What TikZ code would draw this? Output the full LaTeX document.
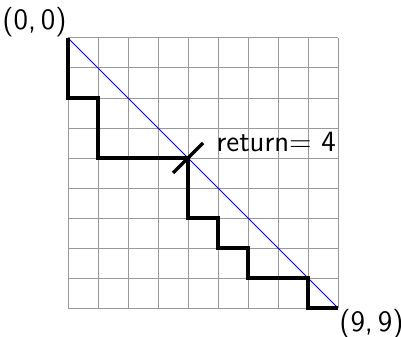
\documentclass[tikz,border=0pt]{standalone}
\usepackage{tikz}
\usetikzlibrary{calc,positioning}

\begin{document}
\begin{tikzpicture}[
	x=0.5cm,
	y=-0.5cm,
	font=\sffamily\fontsize{14}{17}\selectfont,
	gridline/.style={draw=black!40,line width=0.45pt},
	diagline/.style={draw=blue,line width=0.45pt},
	walkline/.style={draw=black,line width=1.6pt,line join=miter},
	crossmark/.style={draw=black,line width=1.6pt},
	corner/.style={inner sep=0.4pt}
	]
	\useasboundingbox (-1.133cm,0.633cm) rectangle (5.55cm,-4.983cm);
	
	% Grid of 9 by 9 cells
	\foreach \i in {0,...,9} {
		\draw[gridline] (\i,0) -- (\i,9);
		\draw[gridline] (0,\i) -- (9,\i);
	}
	
	\coordinate (start) at (0,0);
	\coordinate (finish) at (9,9);
	\coordinate (ret) at (4,4);
	
	% Diagonal
	\draw[diagline] (start) -- (finish);
	
	% Staircase walk
	\draw[walkline] (start) -- (0,2) -- (1,2) -- (1,4) -- (ret) -- (4,6) -- (5,6)
		-- (5,7) -- (6,7) -- (6,8) -- (8,8) -- (8,9) -- (finish);
	
	% Return mark
	\coordinate (crossa) at ($(ret)+(-0.25cm,-0.25cm)$);
	\coordinate (crossb) at ($(ret)+(0.25cm,0.25cm)$);
	\draw[crossmark] (crossa) -- (crossb);
	\node[anchor=base west,inner sep=0pt] (retlabel) at ($(ret)+(0.47cm,0.1cm)$) {return= 4};
	
	\node[corner,anchor=south east] (startlabel) at (start) {(0,\,0)};
	\node[corner,anchor=north west] (finishlabel) at (finish) {(9,\,9)};
\end{tikzpicture}
\end{document}
